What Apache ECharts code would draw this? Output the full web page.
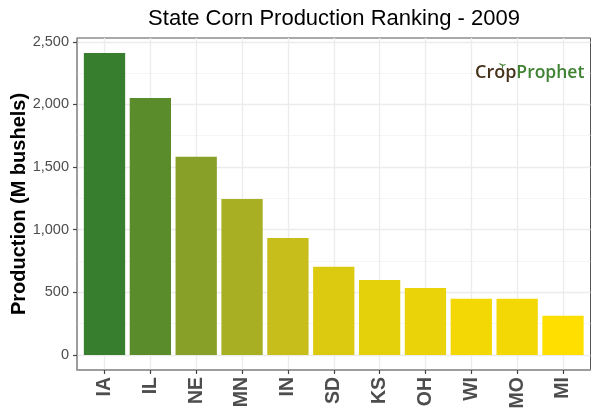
<!DOCTYPE html>
<html>
<head>
    <meta charset="utf-8">
    <title>State Corn Production Ranking - 2009</title>
    <script src="https://cdn.jsdelivr.net/npm/echarts@6/dist/echarts.min.js"></script>
    <style>
        html, body { margin: 0; padding: 0; background: #fff; }
        #chart { width: 600px; height: 420px; }
    </style>
</head>
<body>
<div id="chart"></div>
<script>
    var states = ['IA', 'IL', 'NE', 'MN', 'IN', 'SD', 'KS', 'OH', 'WI', 'MO', 'MI'];
    var production = [2410, 2051, 1582, 1244, 933, 705, 599, 535, 448, 448, 313];
    var yTicks = [0, 500, 1000, 1500, 2000, 2500];
    var yMinorTicks = [250, 750, 1250, 1750, 2250];
    var yRange = [-120, 2530];
    var xRange = [0.4, 11.6];

    var positions = states.map(function (s, i) { return i + 1; });
    var font = '"Liberation Sans", Arial, sans-serif';

    var myChart = echarts.init(document.getElementById('chart'), null, { renderer: 'canvas' });

    myChart.setOption({
        animation: false,
        backgroundColor: '#fff',
        textStyle: { fontFamily: font },
        title: {
            text: 'State Corn Production Ranking - 2009',
            left: 329,
            textAlign: 'center',
            top: 3,
            textStyle: { fontFamily: font, fontSize: 22, fontWeight: 'normal', color: '#000' }
        },
        grid: {
            left: 77, right: 9.5, top: 38, bottom: 50,
            outerBoundsMode: 'none',
            show: true, borderColor: '#555', borderWidth: 1, backgroundColor: '#fff'
        },
        xAxis: {
            type: 'value',
            min: xRange[0],
            max: xRange[1],
            axisLine: { show: true, onZero: false, lineStyle: { color: '#999', width: 1.5 } },
            axisTick: { show: true, length: 4, customValues: positions, lineStyle: { color: '#444', width: 1.2 } },
            axisLabel: {
                customValues: positions,
                rotate: 90,
                margin: 7,
                fontFamily: font,
                fontSize: 19.5,
                fontWeight: 'bold',
                color: '#4d4d4d',
                formatter: function (v) { return states[v - 1]; }
            },
            splitLine: { show: true, lineStyle: { color: '#ececec', width: 1.3 } }
        },
        yAxis: [
            {
                type: 'value',
                min: yRange[0],
                max: yRange[1],
                name: 'Production (M bushels)',
                nameLocation: 'middle',
                nameRotate: 90,
                nameGap: 48,
                nameMoveOverlap: false,
                nameTextStyle: { fontFamily: font, fontSize: 20, fontWeight: 'bold', color: '#000' },
                axisLine: { show: true, onZero: false, lineStyle: { color: '#999', width: 1.5 } },
                axisTick: { show: true, length: 4, customValues: yTicks, lineStyle: { color: '#444', width: 1.2 } },
                axisLabel: {
                    customValues: yTicks,
                    margin: 8,
                    fontFamily: font,
                    fontSize: 14.5,
                    color: '#4d4d4d',
                    formatter: function (v) { return v.toLocaleString('en-US'); }
                },
                splitLine: { show: true, lineStyle: { color: '#ececec', width: 1.3 } }
            },
            {
                // only carries the thinner gridlines between the labelled ticks
                type: 'value',
                min: yRange[0],
                max: yRange[1],
                position: 'left',
                axisLine: { show: false },
                axisTick: { show: false, customValues: yMinorTicks },
                axisLabel: { show: false, customValues: yMinorTicks },
                splitLine: { show: true, lineStyle: { color: '#f2f2f2', width: 0.8 } }
            }
        ],
        visualMap: {
            show: false,
            type: 'continuous',
            dimension: 1,
            seriesIndex: 0,
            min: 313,
            max: 2410,
            inRange: { color: ['#ffdf00', '#c0ba1e', '#7c9a2a', '#377e2e'] }
        },
        series: [{
            type: 'bar',
            barWidth: 41.3,
            data: production.map(function (v, i) { return [positions[i], v]; })
        }],
        graphic: [
            {
                type: 'text',
                left: 475,
                top: 64,
                z: 10,
                style: {
                    text: '{a|Crop}{b|Prophet}',
                    rich: {
                        a: { fontFamily: '"Open Sans"', fontSize: 18, fontWeight: 600, fill: '#46321a' },
                        b: { fontFamily: '"Open Sans"', fontSize: 17.5, fontWeight: 600, fill: '#3f8232' }
                    }
                }
            },
            {
                // sprout on the logo's "o"
                type: 'group',
                left: 497,
                top: 61,
                z: 11,
                children: [
                    { type: 'line', shape: { x1: 3, y1: 6, x2: 3, y2: 2 }, style: { stroke: '#3f8232', lineWidth: 1 } },
                    { type: 'line', shape: { x1: 3, y1: 3, x2: 0, y2: 1 }, style: { stroke: '#3f8232', lineWidth: 1.2 } },
                    { type: 'line', shape: { x1: 3, y1: 3, x2: 6, y2: 2 }, style: { stroke: '#3f8232', lineWidth: 1.2 } }
                ]
            }
        ]
    });
</script>
</body>
</html>
